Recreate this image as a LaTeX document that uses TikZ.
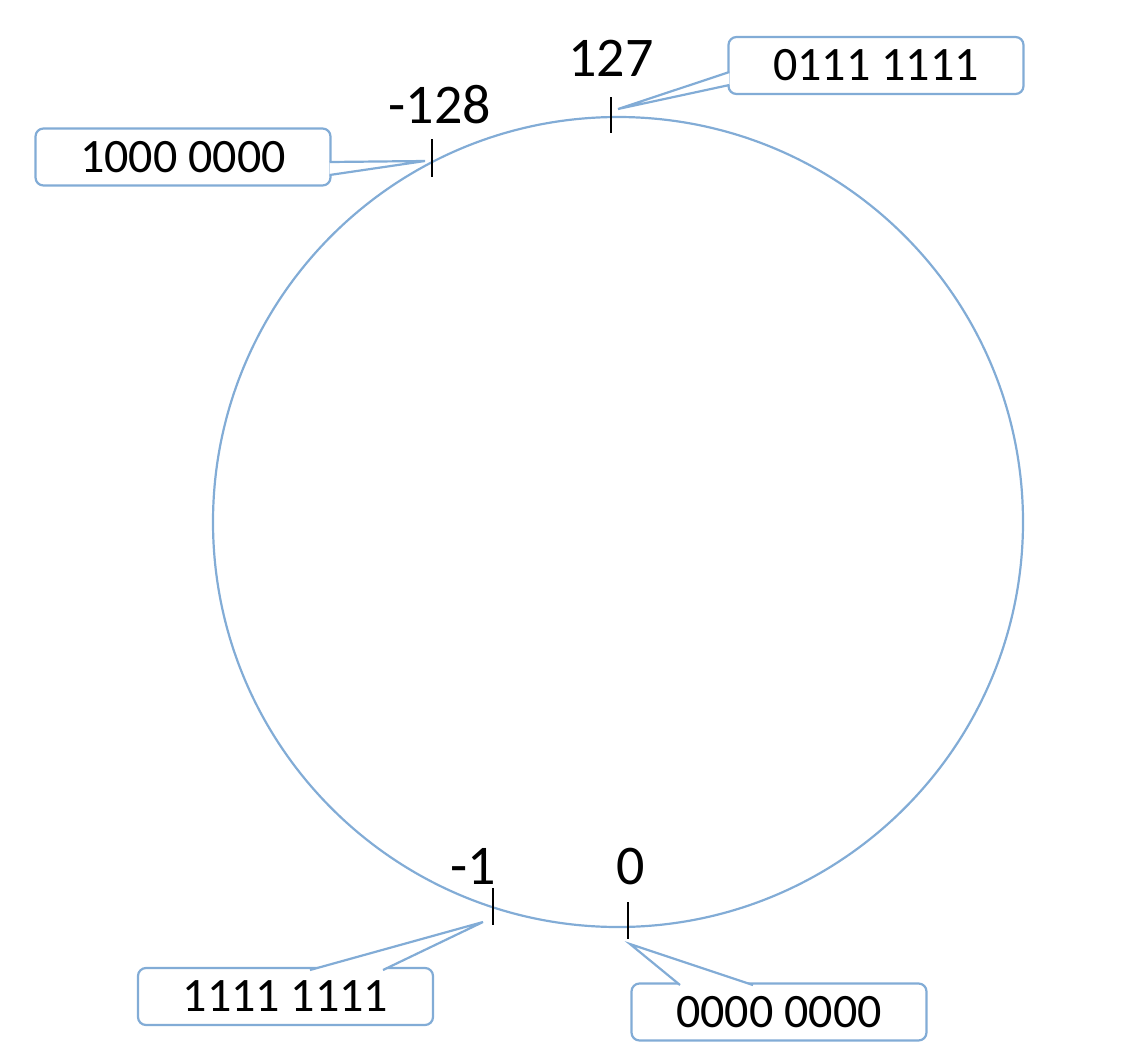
\documentclass[tikz,border=0pt]{standalone}
\usepackage{fontspec}
\setmainfont{Carlito}
\definecolor{calloutblue}{RGB}{130,172,214}
\begin{document}
\begin{tikzpicture}[x=1pt,y=-1pt,
  ring/.style={draw=calloutblue,line width=2.2pt},
  callbox/.style={draw=calloutblue,fill=white,line width=2.2pt,rounded corners=8pt,
    minimum width=295pt,minimum height=57pt,inner sep=0pt,font=\fontsize{48}{52}\selectfont},
  pointer/.style={draw=calloutblue,fill=white,line width=2.2pt,line join=miter},
  tickmark/.style={draw=black,line width=2.8pt},
  numlabel/.style={inner sep=0pt,font=\fontsize{56}{60}\selectfont}]
\useasboundingbox (0,0) rectangle (1133,1053);
% circle
\node[ring,circle,minimum size=810pt,inner sep=0pt] (ring) at (618,522) {};
% ticks
\coordinate (t128a) at (432,139); \coordinate (t128b) at (432,177);
\coordinate (t127a) at (611,97);  \coordinate (t127b) at (611,133);
\coordinate (tm1a) at (493,888);  \coordinate (tm1b) at (493,925);
\coordinate (t0a) at (628,902);   \coordinate (t0b) at (628,939);
\draw[tickmark] (t128a) -- (t128b);
\draw[tickmark] (t127a) -- (t127b);
\draw[tickmark] (tm1a) -- (tm1b);
\draw[tickmark] (t0a) -- (t0b);
% number labels
\node[numlabel] (l128) at (440,105) {-128};
\node[numlabel] (l127) at (611,58) {127};
\node[numlabel] (lm1) at (473,866) {-1};
\node[numlabel] (l0) at (631,867) {0};
% callout boxes
\node[callbox] (b128) at (183,157) {1000 0000};
\node[callbox] (b127) at (876,65.5) {0111 1111};
\node[callbox] (bm1) at (285.5,996.5) {1111 1111};
\node[callbox] (b0) at (779,1012) {0000 0000};
% pointer tips
\coordinate (p128) at (425,161);
\coordinate (p127) at (618,109);
\coordinate (pm1) at (483,922);
\coordinate (p0) at (630,944);
% pointers (bases slightly inside the box edges)
\path[pointer] ([xshift=-2pt]b128.east |- 0,162) -- (p128) -- ([xshift=-2pt]b128.east |- 0,175);
\path[pointer] ([xshift=2pt]b127.west |- 0,72) -- (p127) -- ([xshift=2pt]b127.west |- 0,85);
\path[pointer] (310,970) -- (pm1) -- (383,970);
\path[pointer] (680,985) -- (p0) -- (753,985);
\end{tikzpicture}
\end{document}
